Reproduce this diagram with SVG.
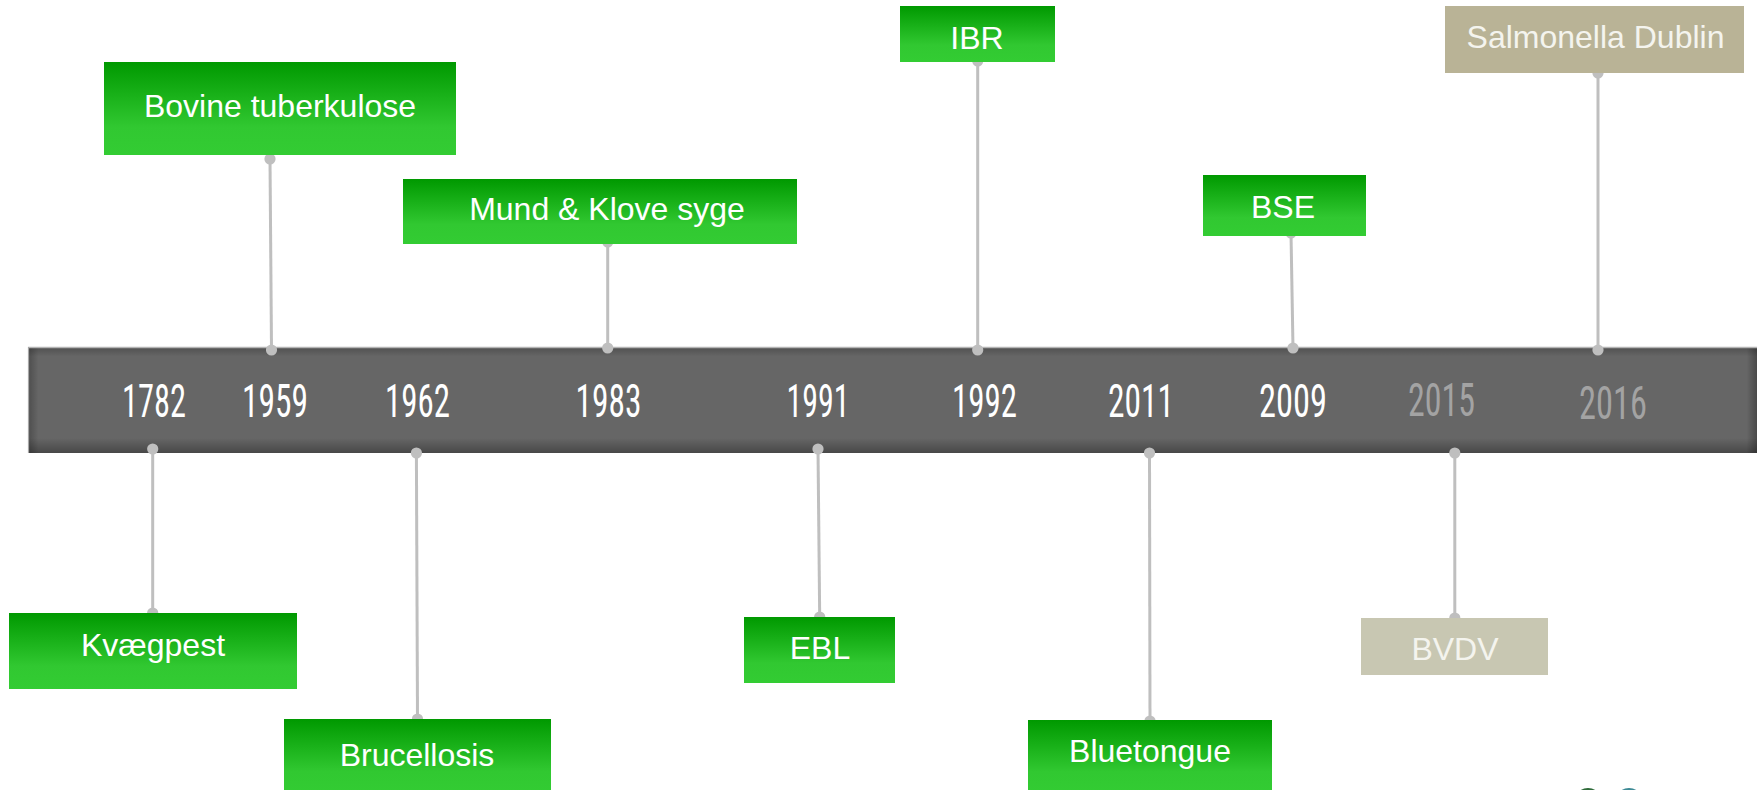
<svg xmlns="http://www.w3.org/2000/svg" width="1759" height="790" viewBox="0 0 1759 790">
  <defs>
    <linearGradient id="gGreen" x1="0" y1="0" x2="0" y2="1">
      <stop offset="0" stop-color="#009900"/>
      <stop offset="0.7" stop-color="#31c831"/>
      <stop offset="1" stop-color="#33cc33"/>
    </linearGradient>
    <linearGradient id="gShadeV" x1="0" y1="0" x2="0" y2="1">
      <stop offset="0" stop-color="#000" stop-opacity="0.22"/>
      <stop offset="0.09" stop-color="#000" stop-opacity="0"/>
      <stop offset="0.86" stop-color="#000" stop-opacity="0"/>
      <stop offset="1" stop-color="#000" stop-opacity="0.3"/>
    </linearGradient>
    <linearGradient id="gShadeH" x1="0" y1="0" x2="1" y2="0">
      <stop offset="0" stop-color="#000" stop-opacity="0.25"/>
      <stop offset="0.006" stop-color="#000" stop-opacity="0"/>
      <stop offset="0.994" stop-color="#000" stop-opacity="0"/>
      <stop offset="1" stop-color="#000" stop-opacity="0.28"/>
    </linearGradient>
    <marker id="dot" viewBox="0 0 12 12" refX="6" refY="6" markerWidth="12" markerHeight="12" markerUnits="userSpaceOnUse">
      <circle cx="6" cy="6" r="5.6" fill="#bfbfbf"/>
    </marker>
    <style>
      .green { fill: url(#gGreen); }
      .tan { fill: #b9b396; }
      .tanlight { fill: #c8c7b2; }
      .lbl { font-family: "Liberation Sans", Arial, sans-serif; font-size: 32px; fill: #ffffff; text-anchor: middle; }
      .lbl2 { font-family: "Liberation Sans", Arial, sans-serif; font-size: 32px; fill: #f4f4ee; text-anchor: middle; }
      .year { font-family: "Liberation Sans Narrow", "Roboto Condensed", "Liberation Sans", sans-serif; font-stretch: condensed; font-size: 47px; fill: #ffffff; text-anchor: middle; }
      .yearDim { fill: #a3a3a3; }
      .conn { stroke: #bfbfbf; stroke-width: 3; fill: none; marker-start: url(#dot); marker-end: url(#dot); }
    </style>
  </defs>

  <rect width="1759" height="790" fill="#ffffff"/>

  <!-- timeline bar -->
  <g id="timeline">
    <rect x="28" y="347" width="1729" height="106" fill="#666666"/>
    <rect x="28" y="347" width="1729" height="106" fill="url(#gShadeV)"/>
    <rect x="28" y="347" width="1729" height="106" fill="url(#gShadeH)"/>
    <line x1="28" y1="347.5" x2="1757" y2="347.5" stroke="#b4b4b4" stroke-width="1.5"/>
    <line x1="28.5" y1="347" x2="28.5" y2="453" stroke="#a8a8a8" stroke-width="1.2"/>
    <text class="year" x="154" y="417" textLength="64" lengthAdjust="spacingAndGlyphs">1782</text>
    <text class="year" x="275" y="417" textLength="66" lengthAdjust="spacingAndGlyphs">1959</text>
    <text class="year" x="417.5" y="417" textLength="65" lengthAdjust="spacingAndGlyphs">1962</text>
    <text class="year" x="608.5" y="417" textLength="66" lengthAdjust="spacingAndGlyphs">1983</text>
    <text class="year" x="818" y="417" textLength="63" lengthAdjust="spacingAndGlyphs">1991</text>
    <text class="year" x="984.5" y="417" textLength="65" lengthAdjust="spacingAndGlyphs">1992</text>
    <text class="year" x="1141" y="417" textLength="66" lengthAdjust="spacingAndGlyphs">2011</text>
    <text class="year" x="1293" y="417" textLength="68" lengthAdjust="spacingAndGlyphs">2009</text>
    <text class="year yearDim" x="1441.5" y="416" textLength="67" lengthAdjust="spacingAndGlyphs">2015</text>
    <text class="year yearDim" x="1613" y="419" textLength="68" lengthAdjust="spacingAndGlyphs">2016</text>
  </g>

  <!-- connectors -->
  <g id="connectors">
    <line class="conn" x1="270" y1="159" x2="271.5" y2="350"/>
    <line class="conn" x1="607.7" y1="242" x2="607.7" y2="348"/>
    <line class="conn" x1="977.7" y1="61" x2="977.7" y2="350"/>
    <line class="conn" x1="1291" y1="233" x2="1293" y2="348"/>
    <line class="conn" x1="1598" y1="73" x2="1598" y2="350"/>
    <line class="conn" x1="152.7" y1="449" x2="152.7" y2="613"/>
    <line class="conn" x1="416.4" y1="453" x2="417.5" y2="719"/>
    <line class="conn" x1="818" y1="449" x2="819.7" y2="617"/>
    <line class="conn" x1="1149.5" y1="453" x2="1150" y2="721"/>
    <line class="conn" x1="1454.8" y1="453" x2="1454.8" y2="618"/>
  </g>

  <!-- top nodes -->
  <g id="node-bovine-tuberkulose">
    <rect class="green" x="104" y="62" width="352" height="93"/>
    <text class="lbl" x="280" y="117">Bovine tuberkulose</text>
  </g>
  <g id="node-mund-klove">
    <rect class="green" x="403" y="179" width="394" height="65"/>
    <text class="lbl" x="607" y="220">Mund &amp; Klove syge</text>
  </g>
  <g id="node-ibr">
    <rect class="green" x="900" y="6" width="155" height="56"/>
    <text class="lbl" x="977" y="49">IBR</text>
  </g>
  <g id="node-bse">
    <rect class="green" x="1203" y="175" width="163" height="61"/>
    <text class="lbl" x="1283" y="218">BSE</text>
  </g>
  <g id="node-salmonella-dublin">
    <rect class="tan" x="1445" y="6" width="299" height="67"/>
    <text class="lbl2" x="1595.5" y="48">Salmonella Dublin</text>
  </g>

  <!-- bottom nodes -->
  <g id="node-kvaegpest">
    <rect class="green" x="9" y="613" width="288" height="76"/>
    <text class="lbl" x="153" y="656">Kvægpest</text>
  </g>
  <g id="node-brucellosis">
    <rect class="green" x="284" y="719" width="267" height="75"/>
    <text class="lbl" x="417" y="766">Brucellosis</text>
  </g>
  <g id="node-ebl">
    <rect class="green" x="744" y="617" width="151" height="66"/>
    <text class="lbl" x="820" y="659">EBL</text>
  </g>
  <g id="node-bluetongue">
    <rect class="green" x="1028" y="720" width="244" height="74"/>
    <text class="lbl" x="1150" y="762">Bluetongue</text>
  </g>
  <g id="node-bvdv">
    <rect class="tanlight" x="1361" y="618" width="187" height="57"/>
    <text class="lbl2" x="1455" y="660">BVDV</text>
  </g>

  <!-- partially visible logo at bottom edge -->
  <g id="logo">
    <circle cx="1588" cy="802" r="14" fill="#2f6b3a"/>
    <circle cx="1629" cy="802" r="14" fill="#3d8a95"/>
  </g>
</svg>
